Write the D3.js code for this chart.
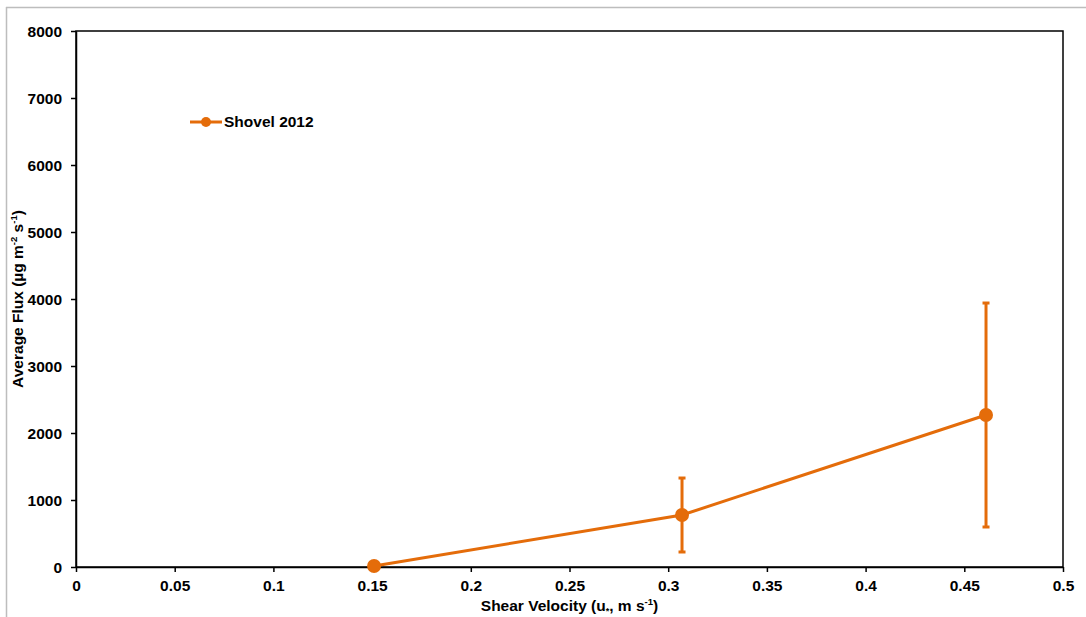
<!DOCTYPE html>
<html>
<head>
<meta charset="utf-8">
<script src="https://cdn.jsdelivr.net/npm/d3@7"></script>
<style>
  body { margin: 0; background: #fff; }
  svg { display: block; font-family: "Liberation Sans", Arial, sans-serif; font-weight: bold; }
  .axis path, .axis line { stroke: #000; stroke-width: 1.5; }
  .axis text { font-size: 15.5px; font-weight: bold; fill: #000; font-family: "Liberation Sans", Arial, sans-serif; }
</style>
</head>
<body>
<svg id="chart"></svg>
<script>
// data
var seriesName = "Shovel 2012";
var shearVelocity = [0.151, 0.307, 0.461];
var avgFlux = [15, 776, 2269];
var fluxLow = [15, 224, 597];
var fluxHigh = [15, 1328, 3940];
var xTicks = [0, 0.05, 0.1, 0.15, 0.2, 0.25, 0.3, 0.35, 0.4, 0.45, 0.5];
var yTicks = [0, 1000, 2000, 3000, 4000, 5000, 6000, 7000, 8000];

var width = 1086, height = 617;
var margin = { left: 76, top: 31, right: 1063, bottom: 567 };
var orange = "#E46C0A";

var svg = d3.select("#chart").attr("width", width).attr("height", height);

// outer chart border (only top & left visible)
svg.append("line").attr("x1", 6).attr("y1", 7.5).attr("x2", width).attr("y2", 7.5)
  .attr("stroke", "#bdbdbd").attr("stroke-width", 1.5);
svg.append("line").attr("x1", 6.5).attr("y1", 7).attr("x2", 6.5).attr("y2", height)
  .attr("stroke", "#bdbdbd").attr("stroke-width", 1.5);

var x = d3.scaleLinear().domain([0, 0.5]).range([margin.left, margin.right]);
var y = d3.scaleLinear().domain([0, 8000]).range([margin.bottom, margin.top]);

// plot frame
svg.append("rect")
  .attr("x", margin.left).attr("y", margin.top)
  .attr("width", margin.right - margin.left)
  .attr("height", margin.bottom - margin.top)
  .attr("fill", "none").attr("stroke", "#000").attr("stroke-width", 1.5);

var xAxis = d3.axisBottom(x).tickValues(xTicks).tickSize(5).tickSizeOuter(0)
  .tickFormat(function (d) { return String(+d.toFixed(2)); });
svg.append("g").attr("class", "axis")
  .attr("transform", "translate(0," + margin.bottom + ")")
  .call(xAxis)
  .selectAll("text").attr("dy", "1.0em");

var yAxis = d3.axisLeft(y).tickValues(yTicks).tickSize(5).tickSizeOuter(0).tickPadding(9)
  .tickFormat(d3.format("d"));
svg.append("g").attr("class", "axis")
  .attr("transform", "translate(" + margin.left + ",0)")
  .call(yAxis)
  .selectAll("text").attr("dy", "0.35em");

// axis labels
var xl = svg.append("text")
  .attr("x", (margin.left + margin.right) / 2).attr("y", 611)
  .attr("text-anchor", "middle").attr("font-size", "15.5px");
xl.append("tspan").text("Shear Velocity (u");
xl.append("tspan").attr("font-size", "9px").attr("dy", 3).text("*");
xl.append("tspan").attr("dy", -3).text(", m s");
xl.append("tspan").attr("font-size", "9.5px").attr("dy", -6).text("-1");
xl.append("tspan").attr("dy", 6).text(")");

var yl = svg.append("text")
  .attr("transform", "translate(23," + (margin.top + margin.bottom) / 2 + ") rotate(-90)")
  .attr("text-anchor", "middle").attr("font-size", "15.5px");
yl.append("tspan").text("Average Flux (\u00b5g m");
yl.append("tspan").attr("font-size", "9.5px").attr("dy", -6).text("-2");
yl.append("tspan").attr("dy", 6).text(" s");
yl.append("tspan").attr("font-size", "9.5px").attr("dy", -6).text("-1");
yl.append("tspan").attr("dy", 6).text(")");

var data = shearVelocity.map(function (v, i) {
  return { x: v, y: avgFlux[i], lo: fluxLow[i], hi: fluxHigh[i] };
});

// error bars
var eb = svg.append("g").selectAll("g").data(data.filter(function (d) { return d.hi > d.lo; }))
  .enter().append("g").attr("stroke", orange).attr("stroke-width", 3);
eb.append("line")
  .attr("x1", function (d) { return x(d.x); }).attr("x2", function (d) { return x(d.x); })
  .attr("y1", function (d) { return y(d.lo); }).attr("y2", function (d) { return y(d.hi); });
eb.append("line")
  .attr("x1", function (d) { return x(d.x) - 3.5; }).attr("x2", function (d) { return x(d.x) + 3.5; })
  .attr("y1", function (d) { return y(d.lo); }).attr("y2", function (d) { return y(d.lo); });
eb.append("line")
  .attr("x1", function (d) { return x(d.x) - 3.5; }).attr("x2", function (d) { return x(d.x) + 3.5; })
  .attr("y1", function (d) { return y(d.hi); }).attr("y2", function (d) { return y(d.hi); });

// series line
var line = d3.line().x(function (d) { return x(d.x); }).y(function (d) { return y(d.y); });
svg.append("path").datum(data)
  .attr("d", line).attr("fill", "none").attr("stroke", orange).attr("stroke-width", 3);

svg.append("g").selectAll("circle").data(data).enter().append("circle")
  .attr("cx", function (d) { return x(d.x); })
  .attr("cy", function (d) { return y(d.y); })
  .attr("r", 7).attr("fill", orange);

// legend
var lg = svg.append("g").attr("transform", "translate(190,122)");
lg.append("line").attr("x1", 0).attr("x2", 32).attr("y1", 0).attr("y2", 0)
  .attr("stroke", orange).attr("stroke-width", 3);
lg.append("circle").attr("cx", 16).attr("cy", 0).attr("r", 5).attr("fill", orange);
lg.append("text").attr("x", 34).attr("y", 0).attr("dy", "0.35em")
  .attr("font-size", "15.5px").text(seriesName);
</script>
</body>
</html>
